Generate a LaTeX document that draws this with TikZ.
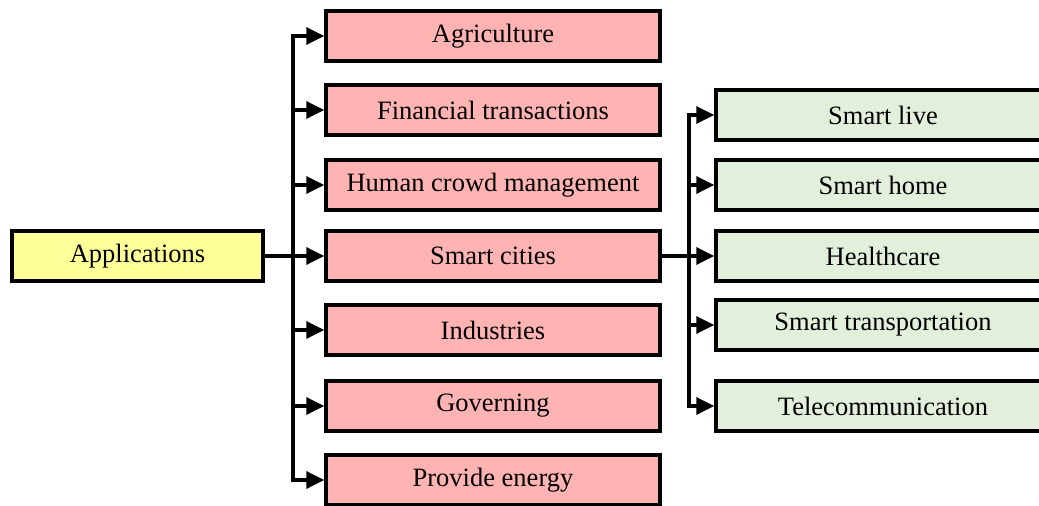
\documentclass[tikz,border=0pt]{standalone}
\usepackage{fontspec}
\setmainfont{Liberation Serif}
\usetikzlibrary{arrows.meta}
\definecolor{appyellow}{HTML}{FFFF99}
\definecolor{areared}{HTML}{FFB3B3}
\definecolor{citygreen}{HTML}{E2EFDA}
\tikzset{
  box/.style={draw, line width=3.5pt, inner sep=0pt, minimum height=50pt,
    font=\fontsize{26.5}{30}\selectfont},
  rootbox/.style={box, fill=appyellow, minimum width=251pt},
  areabox/.style={box, fill=areared, minimum width=334pt},
  citybox/.style={box, fill=citygreen, minimum width=334pt},
  arr/.style={line width=3.5pt, -{Triangle[length=18pt,width=17pt]}}
}
\begin{document}
\begin{tikzpicture}[x=1pt,y=-1pt]
      \useasboundingbox (0,0) rectangle (1039,506);
      \draw
        (137.5,256) node[rootbox] (app){Applications}
        (493,36) node[areabox] (agri){Agriculture}
        (493,110) node[areabox] (fin){Financial transactions}
        (493,185) node[areabox] (crowd){Human crowd management}
        (493,256) node[areabox] (cities){Smart cities}
        (493,330) node[areabox] (ind){Industries}
        (493,406) node[areabox] (gov){Governing}
        (493,480) node[areabox] (energy){Provide energy}
        (883,115) node[citybox] (live){Smart live}
        (883,185) node[citybox] (home){Smart home}
        (883,256) node[citybox] (health){Healthcare}
        (883,325) node[citybox] (trans){Smart transportation}
        (883,406) node[citybox] (tele){Telecommunication};
      \coordinate (split) at (293,256);
      \coordinate (citysplit) at (689,256);
      \draw[line width=3.5pt] (app) -- (split);
      \draw[line width=3.5pt] (cities) -- (citysplit);
      \begin{scope}[arr]
        \draw (split) |- (agri);
        \draw (split) |- (fin);
        \draw (split) |- (crowd);
        \draw (split) -- (cities);
        \draw (split) |- (ind);
        \draw (split) |- (gov);
        \draw (split) |- (energy);
        \draw (citysplit) |- (live);
        \draw (citysplit) |- (home);
        \draw (citysplit) -- (health);
        \draw (citysplit) |- (trans);
        \draw (citysplit) |- (tele);
      \end{scope}
    \end{tikzpicture}
\end{document}
